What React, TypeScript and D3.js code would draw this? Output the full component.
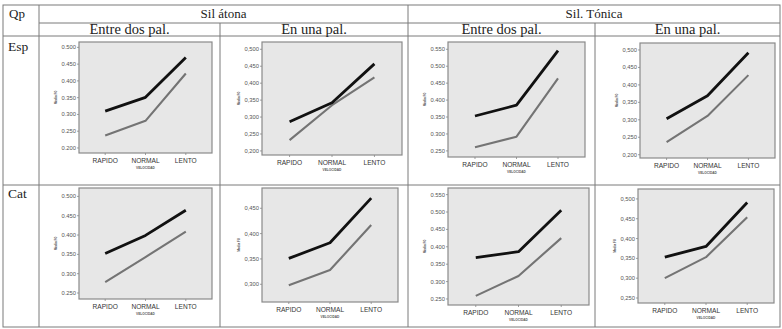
import React from "react";
import * as d3 from "d3";

const categories = ["RAPIDO", "NORMAL", "LENTO"];
const rowLabels = ["Esp", "Cat"];
const groupLabels = ["Sil átona", "Sil. Tónica"];
const subLabels = ["Entre dos pal.", "En una pal.", "Entre dos pal.", "En una pal."];
const cornerLabel = "Qp";
const yTitle = "Media F0";
const xTitle = "VELOCIDAD";

// panel order: Esp (átona-entre, átona-una, tónica-entre, tónica-una), then Cat (same)
const blackSeries = [
  [0.31, 0.351, 0.47],
  [0.286, 0.342, 0.457],
  [0.353, 0.385, 0.546],
  [0.303, 0.369, 0.492],
  [0.352, 0.399, 0.464],
  [0.351, 0.382, 0.47],
  [0.369, 0.386, 0.505],
  [0.353, 0.38, 0.491],
];
const graySeries = [
  [0.237, 0.281, 0.422],
  [0.232, 0.335, 0.417],
  [0.261, 0.292, 0.464],
  [0.236, 0.311, 0.428],
  [0.278, 0.343, 0.409],
  [0.298, 0.328, 0.417],
  [0.259, 0.316, 0.425],
  [0.3, 0.353, 0.454],
];
const yTicks = [
  [0.2, 0.25, 0.3, 0.35, 0.4, 0.45, 0.5],
  [0.2, 0.25, 0.3, 0.35, 0.4, 0.45, 0.5],
  [0.25, 0.3, 0.35, 0.4, 0.45, 0.5, 0.55],
  [0.2, 0.25, 0.3, 0.35, 0.4, 0.45, 0.5],
  [0.25, 0.3, 0.35, 0.4, 0.45, 0.5],
  [0.3, 0.35, 0.4, 0.45],
  [0.25, 0.3, 0.35, 0.4, 0.45, 0.5, 0.55],
  [0.25, 0.3, 0.35, 0.4, 0.45, 0.5],
];
const yDomains = [
  [0.185, 0.516],
  [0.188, 0.5215],
  [0.232, 0.5715],
  [0.1906, 0.52],
  [0.2345, 0.5217],
  [0.265, 0.49],
  [0.2327, 0.569],
  [0.2374, 0.525],
];

// layout
const W = 782;
const H = 329;
const boxes = [
  { x0: 79, x1: 212, y0: 42, y1: 153 },
  { x0: 262, x1: 402, y0: 42, y1: 155 },
  { x0: 448, x1: 585, y0: 42, y1: 157 },
  { x0: 640, x1: 775, y0: 43, y1: 158 },
  { x0: 79, x1: 212, y0: 188, y1: 299 },
  { x0: 262, x1: 398, y0: 188, y1: 302 },
  { x0: 448, x1: 589, y0: 188, y1: 305 },
  { x0: 638, x1: 774, y0: 189, y1: 303 },
];
const T = { left: 3, right: 780, top: 5, bottom: 327, c0: 39, c1: 220, c2: 408, c3: 595, r1: 23, r2: 36, r3: 185 };

const serif = "'Liberation Serif', 'Times New Roman', serif";
const sans = "'Liberation Sans', Arial, sans-serif";

function Panel({ i }: { i: number }) {
  const b = boxes[i];
  const x = d3.scalePoint<string>().domain(categories).range([b.x0, b.x1]).padding(0.65);
  const y = d3.scaleLinear().domain(yDomains[i]).range([b.y1, b.y0]);
  const line = d3
    .line<number>()
    .x((_, k) => x(categories[k]) as number)
    .y((v) => y(v));
  const comma = i % 2 === 1;
  const fmt = (v: number) => {
    const s = d3.format(".3f")(v);
    return comma ? s.replace(".", ",") : s;
  };
  const cy = (b.y0 + b.y1) / 2;
  return (
    <g>
      <rect x={b.x0} y={b.y0} width={b.x1 - b.x0} height={b.y1 - b.y0} fill="#e7e7e7" stroke="#8a8a8a" strokeWidth={1.2} />
      {yTicks[i].map((t) => (
        <g key={t}>
          <line x1={b.x0 - 2} x2={b.x0} y1={y(t)} y2={y(t)} stroke="#888" strokeWidth={0.8} />
          <text x={b.x0 - 3} y={y(t)} dy="0.35em" textAnchor="end" fontFamily={sans} fontSize={5.8} fill="#555">
            {fmt(t)}
          </text>
        </g>
      ))}
      {categories.map((c) => (
        <g key={c}>
          <line x1={x(c)} x2={x(c)} y1={b.y1} y2={b.y1 + 2} stroke="#888" strokeWidth={0.8} />
          <text x={x(c)} y={b.y1 + 9.5} textAnchor="middle" fontFamily={sans} fontSize={6.6} fill="#333">
            {c}
          </text>
        </g>
      ))}
      <text x={(x("NORMAL") as number)} y={b.y1 + 15.5} textAnchor="middle" fontFamily={sans} fontSize={3.2} fill="#555" fontWeight="bold">
        {xTitle}
      </text>
      <text
        transform={`translate(${b.x0 - 22},${cy}) rotate(-90)`}
        textAnchor="middle"
        fontFamily={sans}
        fontSize={3.2}
        fill="#555"
        fontWeight="bold"
      >
        {yTitle}
      </text>
      <path d={line(graySeries[i]) || ""} fill="none" stroke="#747474" strokeWidth={2.1} strokeLinejoin="round" />
      <path d={line(blackSeries[i]) || ""} fill="none" stroke="#111" strokeWidth={2.8} strokeLinejoin="round" />
    </g>
  );
}

export default function App() {
  const lc = "#7a7a7a";
  return (
    <svg width={W} height={H} style={{ position: "absolute", left: 0, top: 0, background: "#fff" }}>
      <rect x={0} y={0} width={W} height={H} fill="#fff" />
      {/* table lines */}
      <rect x={T.left} y={T.top} width={T.right - T.left} height={T.bottom - T.top} fill="none" stroke={lc} strokeWidth={1} />
      <line x1={T.c0} x2={T.c0} y1={T.top} y2={T.bottom} stroke={lc} />
      <line x1={T.c2} x2={T.c2} y1={T.top} y2={T.bottom} stroke={lc} />
      <line x1={T.c1} x2={T.c1} y1={T.r1} y2={T.bottom} stroke={lc} />
      <line x1={T.c3} x2={T.c3} y1={T.r1} y2={T.bottom} stroke={lc} />
      <line x1={T.c0} x2={T.right} y1={T.r1} y2={T.r1} stroke={lc} />
      <line x1={T.left} x2={T.right} y1={T.r2} y2={T.r2} stroke={lc} />
      <line x1={T.left} x2={T.right} y1={T.r3} y2={T.r3} stroke={lc} />
      {/* headers */}
      <text x={9} y={18} fontFamily={serif} fontSize={13} fill="#222">{cornerLabel}</text>
      <text x={(T.c0 + T.c2) / 2} y={18} textAnchor="middle" fontFamily={serif} fontSize={13} fill="#222">{groupLabels[0]}</text>
      <text x={(T.c2 + T.right) / 2} y={18} textAnchor="middle" fontFamily={serif} fontSize={13} fill="#222">{groupLabels[1]}</text>
      {[
        [T.c0, T.c1],
        [T.c1, T.c2],
        [T.c2, T.c3],
        [T.c3, T.right],
      ].map(([a, b2], k) => (
        <text key={k} x={(a + b2) / 2} y={33.5} textAnchor="middle" fontFamily={serif} fontSize={14.5} fill="#222">
          {subLabels[k]}
        </text>
      ))}
      <text x={8} y={51} fontFamily={serif} fontSize={13.5} fill="#222">{rowLabels[0]}</text>
      <text x={8} y={198} fontFamily={serif} fontSize={13.5} fill="#222">{rowLabels[1]}</text>
      {boxes.map((_, i) => (
        <Panel key={i} i={i} />
      ))}
    </svg>
  );
}
